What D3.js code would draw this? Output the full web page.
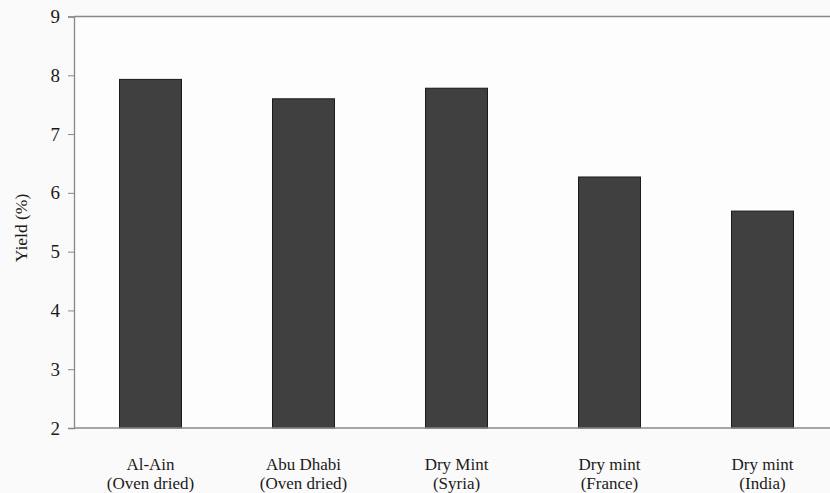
<!DOCTYPE html>
<html>
<head>
<meta charset="utf-8">
<script src="https://cdn.jsdelivr.net/npm/d3@7"></script>
<style>
  html, body { margin: 0; padding: 0; background: #fafafa; }
  svg { display: block; }
  svg text { font-family: "Liberation Serif", "Times New Roman", Times, serif !important; }
</style>
</head>
<body>
<svg id="chart" width="830" height="493"></svg>
<script>
// Essential oil yield by sample
const categories = [
  ["Al-Ain", "(Oven dried)"],
  ["Abu Dhabi", "(Oven dried)"],
  ["Dry Mint", "(Syria)"],
  ["Dry mint", "(France)"],
  ["Dry mint", "(India)"]
];
const yieldValues = [7.93, 7.60, 7.78, 6.27, 5.69];
const yTicks = [2, 3, 4, 5, 6, 7, 8, 9];

const svg = d3.select("#chart");
const plotLeft = 74, plotRight = 839, plotTop = 16.5, plotBottom = 428;

svg.append("rect").attr("x", plotLeft).attr("y", plotTop)
  .attr("width", plotRight - plotLeft).attr("height", plotBottom - plotTop)
  .attr("fill", "#fdfdfd");

const x = d3.scaleBand()
  .domain(d3.range(categories.length))
  .range([plotLeft, plotRight])
  .paddingInner(0.595)
  .paddingOuter(0.2975);

const y = d3.scaleLinear().domain([2, 9]).range([plotBottom, plotTop]);

// bars
svg.append("g").selectAll("rect")
  .data(yieldValues)
  .join("rect")
  .attr("x", (d, i) => x(i))
  .attr("y", d => y(d))
  .attr("width", x.bandwidth())
  .attr("height", d => y(2) - y(d))
  .attr("fill", "#404040")
  .attr("stroke", "#1a1a1a")
  .attr("stroke-width", 1);

// top frame line
svg.append("line")
  .attr("x1", plotLeft).attr("x2", plotRight)
  .attr("y1", plotTop).attr("y2", plotTop)
  .attr("stroke", "#888").attr("stroke-width", 1.3);

// x baseline
svg.append("line")
  .attr("x1", plotLeft).attr("x2", plotRight)
  .attr("y1", plotBottom).attr("y2", plotBottom)
  .attr("stroke", "#888").attr("stroke-width", 1.3);

// y axis
const yAxis = svg.append("g")
  .attr("transform", `translate(${plotLeft},0)`)
  .call(d3.axisLeft(y).tickValues(yTicks).tickFormat(d3.format("d")).tickSize(6).tickPadding(8));
yAxis.select(".domain").attr("stroke", "#888").attr("stroke-width", 1.3);
yAxis.selectAll(".tick line").attr("stroke", "#888");
yAxis.selectAll("text")
  .style("font-size", "19px")
  .attr("fill", "#1a1a1a");

// category labels, two lines each
const labels = svg.append("g").selectAll("text")
  .data(categories)
  .join("text")
  .attr("text-anchor", "middle")
  .style("font-size", "17px")
  .attr("fill", "#1a1a1a");
labels.each(function(lines, i) {
  const cx = x(i) + x.bandwidth() / 2;
  d3.select(this).selectAll("tspan")
    .data(lines)
    .join("tspan")
    .attr("x", cx)
    .attr("y", (d, j) => 469.5 + j * 19.5)
    .text(d => d);
});

// y axis title
svg.append("text")
  .attr("transform", "translate(27,228) rotate(-90)")
  .attr("text-anchor", "middle")
  .style("font-size", "17.5px")
  .attr("fill", "#1a1a1a")
  .text("Yield (%)");
</script>
</body>
</html>
